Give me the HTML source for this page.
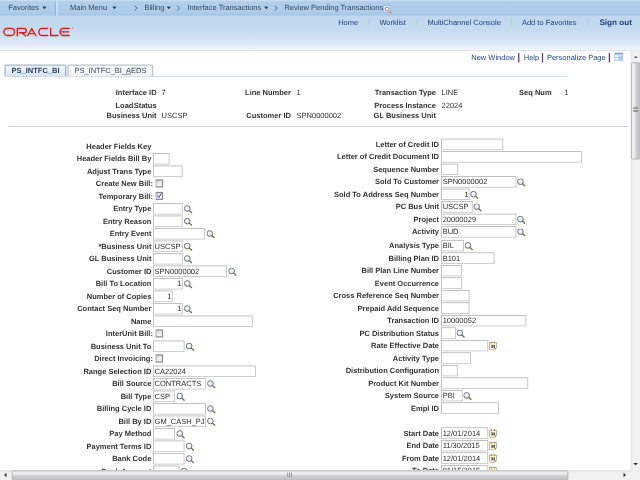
<!DOCTYPE html><html><head><meta charset='utf-8'><title>Review Pending Transactions</title><style>
html,body{margin:0;padding:0;background:#fff;overflow:hidden;width:640px;height:480px}
#root{filter:blur(.3px);position:absolute;left:0;top:0;width:1024px;height:768px;transform:scale(.625);transform-origin:0 0;font-family:"Liberation Sans",sans-serif;font-size:12px;line-height:14px;color:#3d3d3d;overflow:hidden;background:#fff;text-rendering:geometricPrecision}
#root div,#root span,#root svg{position:absolute;white-space:nowrap}
.b{font-weight:bold;color:#333333}
.v{color:#2e2e2e}
.lk{color:#18437f}
.bx{box-sizing:border-box;border:1px solid #9c9c9c;border-bottom-color:#b2b2b2;border-right-color:#a8a8a8;background:#fff;height:18px;overflow:hidden}
.bx span{left:1.3px;top:1px;color:#2a2a2a}
.bx span.r{left:auto;right:.6px}
.cb{width:12.3px;height:12.3px;background:#8c8c8c}
.cb i{position:absolute;left:1.4px;top:1.4px;right:1.4px;bottom:1.4px;background:linear-gradient(135deg,#cfcfcf,#e9e9e9 45%,#fdfdfd)}
.sep{width:1px;height:12px;background:#a9bfd9;top:29px}
.pipe{width:1.6px;height:15px;background:#742a74;top:85px}
</style></head><body><div id='root'>
<svg width="0" height="0" style="left:-10px"><defs>
<radialGradient id="gl" cx="40%" cy="35%" r="70%"><stop offset="0" stop-color="#ffffff"/><stop offset=".55" stop-color="#e3f0fc"/><stop offset="1" stop-color="#b9d8f4"/></radialGradient>
<linearGradient id="cg" x1="0" y1="0" x2="0" y2="1"><stop offset="0" stop-color="#fdeeb4"/><stop offset=".45" stop-color="#fff8dc"/><stop offset="1" stop-color="#ffffff"/></linearGradient>
<symbol id="lk" viewBox="0 0 15 15"><line x1="9.2" y1="9.2" x2="13" y2="12.7" stroke="#6a5e1c" stroke-width="2" stroke-linecap="round"/><line x1="9.6" y1="9" x2="13.2" y2="12.2" stroke="#a8973a" stroke-width=".7"/><circle cx="5.8" cy="5.8" r="4.7" fill="url(#gl)" stroke="#5e5e5e" stroke-width="1.4"/></symbol>
<symbol id="cal" viewBox="0 0 14 15"><path d="M1.2 1.9h11.6v8.9l-3 3h-8.6z" fill="url(#cg)" stroke="#b99b6a" stroke-width="1.3"/><path d="M9.8 13.9v-3.1h3.1z" fill="#a85e24"/><rect x="3.5" y="0.6" width="1.3" height="2.6" fill="#6b655c"/><rect x="8.8" y="0.6" width="1.3" height="2.6" fill="#6b655c"/><path d="M4 6.4h2.1v3.8h-2.1M4.3 8.3h1.6" fill="none" stroke="#3c3450" stroke-width="1.3"/><rect x="8" y="5.9" width="1.8" height="4.8" fill="#0a0a0a"/></symbol>
</defs></svg>
<div style='left:0;top:20px;width:1024px;height:61px;background:linear-gradient(#c1d7ef 0,#c1d7ef 8%,#c3d9ef 40%,#cfe0f3 64%,#d6e5f5 72%,#e0e9f7 83%,#e9f0f9 91%,#eff4fa 97%,#f0f4fa 100%)'></div>
<div style='left:0;top:79.6px;width:1024px;height:1.5px;background:#d3d9e3'></div>
<div style='left:0;top:0;width:1024px;height:25.2px;background:linear-gradient(#b1ceeb 0,#adcbe9 80%,#a6c5e5 96%,#a6c5e5 100%)'></div>
<div style='left:0;top:0;width:1024px;height:1.6px;background:#c8dcf1'></div>
<div style='left:88px;top:2px;width:1.5px;height:23px;background:#8fb2de'></div><div style='left:90px;top:2px;width:1.5px;height:23px;background:#dbe7f5'></div>
<span style='left:13px;top:5px;color:#35485f'>Favorites</span>
<svg style='left:66.5px;top:9.6px' width='8' height='5.5' viewBox='0 0 9 6'><path d='M0.5 0.5h8l-4 5z' fill='#333'/></svg>
<span style='left:112px;top:5px;color:#35485f'>Main Menu</span>
<svg style='left:179px;top:9.6px' width='8' height='5.5' viewBox='0 0 9 6'><path d='M0.5 0.5h8l-4 5z' fill='#333'/></svg>
<svg style='left:213.5px;top:7.6px' width='7' height='10' viewBox='0 0 7 10'><path d='M1 1l4.5 4l-4.5 4' fill='none' stroke='#3f5571' stroke-width='1.2'/></svg>
<span style='left:231px;top:5px;color:#35485f'>Billing</span>
<svg style='left:266px;top:9.6px' width='8' height='5.5' viewBox='0 0 9 6'><path d='M0.5 0.5h8l-4 5z' fill='#333'/></svg>
<svg style='left:282px;top:7.6px' width='7' height='10' viewBox='0 0 7 10'><path d='M1 1l4.5 4l-4.5 4' fill='none' stroke='#3f5571' stroke-width='1.2'/></svg>
<span style='left:300px;top:5px;color:#35485f'>Interface Transactions</span>
<svg style='left:422px;top:9.6px' width='8' height='5.5' viewBox='0 0 9 6'><path d='M0.5 0.5h8l-4 5z' fill='#333'/></svg>
<svg style='left:438px;top:7.6px' width='7' height='10' viewBox='0 0 7 10'><path d='M1 1l4.5 4l-4.5 4' fill='none' stroke='#3f5571' stroke-width='1.2'/></svg>
<span style='left:455px;top:5px;color:#35485f'>Review Pending Transactions</span>
<svg style='left:613px;top:8px' width='14' height='14' viewBox='0 0 14 14'><rect x='.8' y='.8' width='11' height='11' fill='#e3edf9' stroke='#8eb2e4' stroke-width='1.2'/><circle cx='6.3' cy='6.6' r='3.1' fill='#f4f9ff' stroke='#5b6f8e' stroke-width='1.2'/><line x1='8.8' y1='9' x2='12.6' y2='12.6' stroke='#e09a18' stroke-width='1.9' stroke-linecap='round'/></svg>
<svg style='left:5px;top:44px' width='108.5' height='14.5' viewBox='0 0 112 15' preserveAspectRatio='none'><g fill='none' stroke='#ee1111' stroke-width='2.3'><rect x='1.3' y='1.3' width='17.5' height='12' rx='6' ry='6'/><path d='M23.5 14.5V1.3h11a3.6 3.6 0 0 1 0 7.4h-8.5M31 8.7l6.5 5.8'/><path d='M40 14.5l7.3-12.6l7.3 12.6M43.2 10.2h9'/><path d='M74.5 1.3h-9.5a6 6 0 0 0 0 12h9.5'/><path d='M78.5 0v13.3h13'/><path d='M110 1.3h-10a6 6 0 0 0 0 12h10M95.5 7.3h13.5'/></g></svg>
<div style='left:114.5px;top:44px;width:2px;height:2px;background:#f06a6a'></div>
<span class='lk' style='left:541px;top:29.2px'>Home</span>
<span class='lk' style='left:607px;top:29.2px'>Worklist</span>
<span class='lk' style='left:684px;top:29.2px'>MultiChannel Console</span>
<span class='lk' style='left:835px;top:29.2px'>Add to Favorites</span>
<span class='lk' style='left:959px;font-weight:bold;font-size:13px;top:29px;color:#173f7c'>Sign out</span>
<div class='sep' style='left:591px'></div>
<div class='sep' style='left:667px'></div>
<div class='sep' style='left:818px'></div>
<div class='sep' style='left:940px'></div>
<span style='color:#1d4789;left:754px;top:85px'>New Window</span>
<span style='color:#1d4789;left:838px;top:85px'>Help</span>
<span style='color:#1d4789;left:875px;top:85px'>Personalize Page</span>
<div class='pipe' style='left:829px'></div>
<div class='pipe' style='left:867px'></div>
<div class='pipe' style='left:974px'></div>
<svg style='left:983px;top:83.5px' width='14' height='14' viewBox='0 0 14 14'><rect x='.5' y='.5' width='13' height='13' fill='#dbe8fa' stroke='#6f9be0'/><rect x='1' y='1' width='12' height='2' fill='#6c9ae6'/><rect x='2.2' y='5.4' width='3' height='6.6' fill='#fff'/><rect x='6.4' y='5.4' width='5.6' height='6.6' fill='#b7d0f4'/><rect x='1' y='7.6' width='12' height='1' fill='#8fb3ea'/></svg>
<div style='left:7px;top:122px;width:900px;height:1px;background:#bcd0e6'></div>
<div style='left:7px;top:103px;width:98.5px;height:19px;border-radius:2.5px 2.5px 0 0;background:#a6b3cc'></div>
<div style='left:8.6px;top:104.6px;width:95px;height:17.4px;border-radius:1px 1px 0 0;background:linear-gradient(#f1f6fb,#d6e4f4)'></div>
<div style='left:105.5px;top:104.5px;width:1px;height:17.5px;background:#c9ced8'></div>
<span style='left:18.5px;top:106px;font-weight:bold;color:#2d4263'>PS_INTFC_BI</span>
<div style='left:108px;top:103px;width:136.5px;height:19px;border-radius:2.5px 2.5px 0 0;background:#bcc1cb'></div>
<div style='left:109.6px;top:104.6px;width:133.3px;height:17.4px;border-radius:1px 1px 0 0;background:linear-gradient(#fdfdfd,#eff1f4)'></div>
<span style='left:119px;top:106px;color:#3a4a63'>PS_INTFC_BI_<u>A</u>EDS</span>
<span class='b' style='right:773.5px;top:141px'>Interface ID</span>
<span class='v' style='left:258.5px;top:141px'>7</span>
<span class='b' style='right:773.5px;top:161px'>Load<span style='position:static;margin-left:.3px'>Status</span></span>
<span class='b' style='right:773.5px;top:178px'>Business Unit</span>
<span class='v' style='left:258.5px;top:178px'>USCSP</span>
<span class='b' style='right:558.5px;top:141px'>Line Number</span>
<span class='v' style='left:474.5px;top:141px'>1</span>
<span class='b' style='right:558.5px;top:178px'>Customer ID</span>
<span class='v' style='left:474.5px;top:178px'>SPN0000002</span>
<span class='b' style='right:326.5px;top:141px'>Transaction Type</span>
<span class='v' style='left:706.5px;top:141px'>LINE</span>
<span class='b' style='right:326.5px;top:161px'>Process Instance</span>
<span class='v' style='left:706.5px;top:161px'>22024</span>
<span class='b' style='right:326.5px;top:178px'>GL Business Unit</span>
<span class='b' style='left:830.5px;top:141px'>Seq Num</span>
<span class='v' style='right:114.5px;top:141px'>1</span>
<div style='left:13px;top:201.5px;width:992px;height:1.5px;background:#b9b9b9'></div>
<span class='b' style='right:781.8px;top:227px'>Header Fields Key</span>
<span class='b' style='right:781.8px;top:247px'>Header Fields Bill By</span>
<div class='bx' style='left:245px;top:245px;width:26px'></div>
<span class='b' style='right:781.8px;top:267px'>Adjust Trans Type</span>
<div class='bx' style='left:245px;top:265px;width:47px'></div>
<span class='b' style='right:779.3px;top:287px'>Create New Bill:</span>
<div class='cb' style='left:248.5px;top:287.4px'><i></i></div>
<span class='b' style='right:779.3px;top:307px'>Temporary Bill:</span>
<div class='cb' style='left:248.5px;top:307.4px'><i></i></div>
<svg style='left:248.5px;top:307.4px' width='12.3' height='12.3' viewBox='0 0 13 13'><path d='M3 6.2l2.3 3.4l4.4-7' fill='none' stroke='#1b3282' stroke-width='1.5'/></svg>
<span class='b' style='right:781.8px;top:327px'>Entry Type</span>
<div class='bx' style='left:245px;top:325px;width:47px'></div>
<svg style='left:294.1px;top:327.5px' width='14.6' height='14.6'><use href='#lk'/></svg>
<span class='b' style='right:781.8px;top:347px'>Entry Reason</span>
<div class='bx' style='left:245px;top:345px;width:47px'></div>
<svg style='left:294.1px;top:347.5px' width='14.6' height='14.6'><use href='#lk'/></svg>
<span class='b' style='right:781.8px;top:367px'>Entry Event</span>
<div class='bx' style='left:245px;top:365px;width:83px'></div>
<svg style='left:330.1px;top:367.5px' width='14.6' height='14.6'><use href='#lk'/></svg>
<span class='b' style='right:781.8px;top:387px'>*Business Unit</span>
<div class='bx' style='left:245px;top:385px;width:47px'><span class=''>USCSP</span></div>
<svg style='left:294.1px;top:387.5px' width='14.6' height='14.6'><use href='#lk'/></svg>
<span class='b' style='right:781.8px;top:407px'>GL Business Unit</span>
<div class='bx' style='left:245px;top:405px;width:47px'></div>
<svg style='left:294.1px;top:407.5px' width='14.6' height='14.6'><use href='#lk'/></svg>
<span class='b' style='right:781.8px;top:427px'>Customer ID</span>
<div class='bx' style='left:245px;top:425px;width:118px'><span class=''>SPN0000002</span></div>
<svg style='left:365.1px;top:427.5px' width='14.6' height='14.6'><use href='#lk'/></svg>
<span class='b' style='right:781.8px;top:447px'>Bill To Location</span>
<div class='bx' style='left:245px;top:445px;width:47px'><span class='r'>1</span></div>
<svg style='left:294.1px;top:447.5px' width='14.6' height='14.6'><use href='#lk'/></svg>
<span class='b' style='right:781.8px;top:467px'>Number of Copies</span>
<div class='bx' style='left:245px;top:465px;width:31px'><span class='r'>1</span></div>
<span class='b' style='right:781.8px;top:487px'>Contact Seq Number</span>
<div class='bx' style='left:245px;top:485px;width:47px'><span class='r'>1</span></div>
<svg style='left:294.1px;top:487.5px' width='14.6' height='14.6'><use href='#lk'/></svg>
<span class='b' style='right:781.8px;top:507px'>Name</span>
<div class='bx' style='left:245px;top:505px;width:159px'></div>
<span class='b' style='right:779.3px;top:527px'>InterUnit Bill:</span>
<div class='cb' style='left:248.5px;top:527.4px'><i></i></div>
<span class='b' style='right:781.8px;top:547px'>Business Unit To</span>
<div class='bx' style='left:245px;top:545px;width:50px'></div>
<svg style='left:297.1px;top:547.5px' width='14.6' height='14.6'><use href='#lk'/></svg>
<span class='b' style='right:779.3px;top:567px'>Direct Invoicing:</span>
<div class='cb' style='left:248.5px;top:567.4px'><i></i></div>
<span class='b' style='right:781.8px;top:587px'>Range Selection ID</span>
<div class='bx' style='left:245px;top:585px;width:164px'><span class=''>CA22024</span></div>
<span class='b' style='right:781.8px;top:607px'>Bill Source</span>
<div class='bx' style='left:245px;top:605px;width:84px'><span class=''>CONTRACTS</span></div>
<svg style='left:331.1px;top:607.5px' width='14.6' height='14.6'><use href='#lk'/></svg>
<span class='b' style='right:781.8px;top:627px'>Bill Type</span>
<div class='bx' style='left:245px;top:625px;width:35px'><span class=''>CSP</span></div>
<svg style='left:282.1px;top:627.5px' width='14.6' height='14.6'><use href='#lk'/></svg>
<span class='b' style='right:781.8px;top:647px'>Billing Cycle ID</span>
<div class='bx' style='left:245px;top:645px;width:84px'></div>
<svg style='left:331.1px;top:647.5px' width='14.6' height='14.6'><use href='#lk'/></svg>
<span class='b' style='right:781.8px;top:667px'>Bill By ID</span>
<div class='bx' style='left:245px;top:665px;width:84px'><span class=''>GM_CASH_PJ</span></div>
<svg style='left:331.1px;top:667.5px' width='14.6' height='14.6'><use href='#lk'/></svg>
<span class='b' style='right:781.8px;top:687px'>Pay Method</span>
<div class='bx' style='left:245px;top:685px;width:35px'></div>
<svg style='left:282.1px;top:687.5px' width='14.6' height='14.6'><use href='#lk'/></svg>
<span class='b' style='right:781.8px;top:707px'>Payment Terms ID</span>
<div class='bx' style='left:245px;top:705px;width:50px'></div>
<svg style='left:297.1px;top:707.5px' width='14.6' height='14.6'><use href='#lk'/></svg>
<span class='b' style='right:781.8px;top:727px'>Bank Code</span>
<div class='bx' style='left:245px;top:725px;width:50px'></div>
<svg style='left:297.1px;top:727.5px' width='14.6' height='14.6'><use href='#lk'/></svg>
<span class='b' style='right:781.8px;top:747px'>Bank Account</span>
<div class='bx' style='left:245px;top:745px;width:42px'></div>
<svg style='left:289.1px;top:747.5px' width='14.6' height='14.6'><use href='#lk'/></svg>
<span class='b' style='right:321.6px;top:224px'>Letter of Credit ID</span>
<div class='bx' style='left:706px;top:222px;width:99px'></div>
<span class='b' style='right:321.6px;top:244px'>Letter of Credit Document ID</span>
<div class='bx' style='left:706px;top:242px;width:225px'></div>
<span class='b' style='right:321.6px;top:264px'>Sequence Number</span>
<div class='bx' style='left:706px;top:262px;width:27px'></div>
<span class='b' style='right:321.6px;top:284px'>Sold To Customer</span>
<div class='bx' style='left:706px;top:282px;width:120px'><span class=''>SPN0000002</span></div>
<svg style='left:827.3px;top:285.0px' width='14.6' height='14.6'><use href='#lk'/></svg>
<span class='b' style='right:321.6px;top:304px'>Sold To Address Seq Number</span>
<div class='bx' style='left:706px;top:302px;width:45px'><span class='r'>1</span></div>
<svg style='left:752.3px;top:305.0px' width='14.6' height='14.6'><use href='#lk'/></svg>
<span class='b' style='right:321.6px;top:324px'>PC Bus Unit</span>
<div class='bx' style='left:706px;top:322px;width:50px'><span class=''>USCSP</span></div>
<svg style='left:757.3px;top:325.0px' width='14.6' height='14.6'><use href='#lk'/></svg>
<span class='b' style='right:321.6px;top:344px'>Project</span>
<div class='bx' style='left:706px;top:342px;width:120px'><span class=''>20000029</span></div>
<svg style='left:827.3px;top:345.0px' width='14.6' height='14.6'><use href='#lk'/></svg>
<span class='b' style='right:321.6px;top:364px'>Activity</span>
<div class='bx' style='left:706px;top:362px;width:120px'><span class=''>BUD</span></div>
<svg style='left:827.3px;top:365.0px' width='14.6' height='14.6'><use href='#lk'/></svg>
<span class='b' style='right:321.6px;top:386px'>Analysis Type</span>
<div class='bx' style='left:706px;top:384px;width:36px'><span class=''>BIL</span></div>
<svg style='left:743.3px;top:387.0px' width='14.6' height='14.6'><use href='#lk'/></svg>
<span class='b' style='right:321.6px;top:406px'>Billing Plan ID</span>
<div class='bx' style='left:706px;top:404px;width:85px'><span class=''>B101</span></div>
<span class='b' style='right:321.6px;top:426px'>Bill Plan Line Number</span>
<div class='bx' style='left:706px;top:424px;width:33px'></div>
<span class='b' style='right:321.6px;top:446px'>Event Occurrence</span>
<div class='bx' style='left:706px;top:444px;width:33px'></div>
<span class='b' style='right:321.6px;top:466px'>Cross Reference Seq Number</span>
<div class='bx' style='left:706px;top:464px;width:45px'></div>
<span class='b' style='right:321.6px;top:486px'>Prepaid Add Sequence</span>
<div class='bx' style='left:706px;top:484px;width:45px'></div>
<span class='b' style='right:321.6px;top:506px'>Transaction ID</span>
<div class='bx' style='left:706px;top:504px;width:136px'><span class=''>10000052</span></div>
<span class='b' style='right:321.6px;top:526px'>PC Distribution Status</span>
<div class='bx' style='left:706px;top:524px;width:23px'></div>
<svg style='left:730.3px;top:527.0px' width='14.6' height='14.6'><use href='#lk'/></svg>
<span class='b' style='right:321.6px;top:546px'>Rate Effective Date</span>
<div class='bx' style='left:706px;top:544px;width:75px'></div>
<svg style='left:782.4px;top:546.1px' width='13.6' height='15'><use href='#cal'/></svg>
<span class='b' style='right:321.6px;top:566px'>Activity Type</span>
<div class='bx' style='left:706px;top:564px;width:47px'></div>
<span class='b' style='right:321.6px;top:586px'>Distribution Configuration</span>
<div class='bx' style='left:706px;top:584px;width:26px'></div>
<span class='b' style='right:321.6px;top:606px'>Product Kit Number</span>
<div class='bx' style='left:706px;top:604px;width:139px'></div>
<span class='b' style='right:321.6px;top:626px'>System Source</span>
<div class='bx' style='left:706px;top:624px;width:34px'><span class=''>PBI</span></div>
<svg style='left:741.3px;top:627.0px' width='14.6' height='14.6'><use href='#lk'/></svg>
<span class='b' style='right:321.6px;top:646px'>Empl ID</span>
<div class='bx' style='left:706px;top:644px;width:92px'></div>
<span class='b' style='right:321.6px;top:686px'>Start Date</span>
<div class='bx' style='left:706px;top:684px;width:75px'><span class=''>12/01/2014</span></div>
<svg style='left:782.4px;top:686.1px' width='13.6' height='15'><use href='#cal'/></svg>
<span class='b' style='right:321.6px;top:706px'>End Date</span>
<div class='bx' style='left:706px;top:704px;width:75px'><span class=''>11/30/2015</span></div>
<svg style='left:782.4px;top:706.1px' width='13.6' height='15'><use href='#cal'/></svg>
<span class='b' style='right:321.6px;top:726px'>From Date</span>
<div class='bx' style='left:706px;top:724px;width:75px'><span class=''>12/01/2014</span></div>
<svg style='left:782.4px;top:726.1px' width='13.6' height='15'><use href='#cal'/></svg>
<span class='b' style='right:321.6px;top:746px'>To Date</span>
<div class='bx' style='left:706px;top:744px;width:75px'><span class=''>01/15/2015</span></div>
<svg style='left:782.4px;top:746.1px' width='13.6' height='15'><use href='#cal'/></svg>
<div style='left:1009px;top:81px;width:15px;height:671px;background:linear-gradient(90deg,#e3e3e3,#f0f0f0 30%,#f1f1f1)'></div>
<div style='left:0;top:752px;width:1024px;height:16px;background:linear-gradient(#e3e3e3,#f0f0f0 30%,#f1f1f1)'></div>
<div style='left:1009px;top:752px;width:15px;height:16px;background:#f0f0f0'></div>
<div style='left:1010px;top:99.5px;width:14px;height:155px;box-sizing:border-box;border:1px solid #979797;border-radius:2px;background:linear-gradient(90deg,#f5f5f5,#e4e4e6 45%,#cfcfd2 55%,#c2c2c6)'></div>
<div style='left:1013px;top:171.0px;width:8px;height:1px;background:#6c6c6c'></div>
<div style='left:1013px;top:173.3px;width:8px;height:1px;background:#6c6c6c'></div>
<div style='left:1013px;top:175.6px;width:8px;height:1px;background:#6c6c6c'></div>
<div style='left:1013px;top:177.9px;width:8px;height:1px;background:#6c6c6c'></div>
<div style='left:18.5px;top:753px;width:890px;height:15px;box-sizing:border-box;border:1px solid #979797;border-radius:2px;background:linear-gradient(#f5f5f5,#e4e4e6 45%,#cfcfd2 55%,#c2c2c6)'></div>
<div style='left:459.5px;top:755.5px;width:1.6px;height:7.5px;background:#6a6a6a'></div>
<div style='left:462.7px;top:755.5px;width:1.6px;height:7.5px;background:#6a6a6a'></div>
<div style='left:465.9px;top:755.5px;width:1.6px;height:7.5px;background:#6a6a6a'></div>
<svg style='left:1013.5px;top:89px' width='6.5' height='4.2' viewBox='0 0 10 8' preserveAspectRatio='none'><path d='M5 1l4.5 6h-9z' fill='#4a4a4a'/></svg>
<svg style='left:1012.8px;top:739.5px' width='8' height='5' viewBox='0 0 10 8' preserveAspectRatio='none'><path d='M5 7l4.5-6h-9z' fill='#222'/></svg>
<svg style='left:5.5px;top:756px' width='5' height='8' viewBox='0 0 8 10' preserveAspectRatio='none'><path d='M1 5l6-4.5v9z' fill='#222'/></svg>
<svg style='left:996.5px;top:756px' width='5' height='8' viewBox='0 0 8 10' preserveAspectRatio='none'><path d='M7 5l-6-4.5v9z' fill='#222'/></svg>
</div></body></html>
